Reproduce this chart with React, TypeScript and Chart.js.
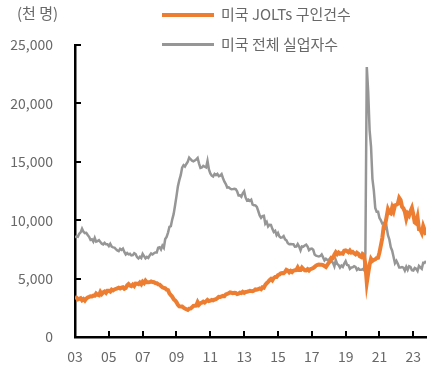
import React, { useEffect, useRef } from "react";
import { Chart, registerables } from "chart.js";

Chart.register(...registerables);

const START_YEAR = 2003;
const X_TICK_YEARS = [2003, 2005, 2007, 2009, 2011, 2013, 2015, 2017, 2019, 2021, 2023];
const Y_TICKS = [0, 5000, 10000, 15000, 20000, 25000];
const UNIT_LABEL = "(천 명)";
const SERIES_NAMES = ["미국 JOLTs 구인건수", "미국 전체 실업자수"];
const COLORS = ["#ED7D31", "#969696"];

// 미국 JOLTs 구인건수 (천 명), monthly from 2003-01
const jobOpenings = [
  3450, 3380, 3224, 3262, 3321, 3150, 3254, 3118, 3285, 3388, 3431, 3486,
  3476, 3540, 3530, 3719, 3617, 3578, 3858, 3680, 3820, 3893, 3774, 3960,
  3953, 3888, 4059, 3989, 4071, 4113, 4166, 4221, 4161, 4224, 4258, 4133,
  4200, 4429, 4536, 4405, 4351, 4485, 4367, 4572, 4565, 4525, 4664, 4519,
  4737, 4621, 4827, 4682, 4689, 4696, 4761, 4710, 4692, 4617, 4605, 4506,
  4483, 4370, 4254, 4214, 4170, 4050, 4013, 3725, 3582, 3451, 3228, 3134,
  2978, 2754, 2622, 2602, 2604, 2511, 2433, 2372, 2316, 2434, 2443, 2540,
  2658, 2684, 2690, 2985, 2766, 2895, 2936, 3023, 2955, 3049, 3179, 3084,
  3110, 3172, 3135, 3203, 3247, 3322, 3439, 3425, 3482, 3518, 3498, 3652,
  3693, 3746, 3819, 3786, 3755, 3780, 3771, 3682, 3716, 3794, 3760, 3864,
  3783, 3855, 3873, 3899, 3957, 3938, 3926, 3980, 4074, 4055, 4090, 4158,
  4090, 4260, 4226, 4458, 4605, 4723, 4869, 4969, 4856, 5049, 5137, 5143,
  5292, 5345, 5455, 5472, 5468, 5568, 5746, 5691, 5542, 5652, 5553, 5679,
  5711, 5719, 5951, 5734, 5739, 5947, 5816, 5718, 5708, 5803, 5694, 5808,
  5855, 5906, 6001, 6117, 6173, 6202, 6188, 6183, 6154, 6073, 5996, 6169,
  6362, 6478, 6787, 6763, 7047, 7254, 7099, 7229, 7125, 7171, 7138, 7391,
  7417, 7348, 7252, 7401, 7228, 7286, 7165, 7078, 7218, 7129, 6906, 6849,
  7108, 7024, 6191, 4657, 5464, 6198, 6697, 6518, 6599, 6647, 6762, 6788,
  7244, 7838, 8470, 9467, 9625, 10252, 10935, 10658, 10588, 11084, 10768, 11282,
  11318, 11407, 11909, 11727, 11154, 11012, 10714, 10136, 10565, 10403, 10772, 11055,
  10500, 9813, 9718, 10253, 9227, 9183, 8920, 9497, 9153, 8733,
];

// 미국 전체 실업자수 (천 명), monthly from 2003-01
const unemployed = [
  8520, 8618, 8588, 8842, 8957, 9266, 9011, 8896, 8921, 8732, 8576, 8317,
  8370, 8167, 8491, 8170, 8212, 8286, 8136, 7990, 7927, 8061, 7932, 7934,
  7784, 7980, 7737, 7672, 7651, 7524, 7406, 7345, 7553, 7453, 7566, 7279,
  7064, 7184, 7072, 7120, 6980, 7001, 7175, 7091, 6847, 6727, 6872, 6762,
  7116, 6927, 6731, 6850, 6766, 6979, 7149, 7067, 7170, 7237, 7240, 7645,
  7685, 7497, 7822, 7637, 8395, 8575, 8937, 9438, 9494, 10074, 10538, 11286,
  12058, 12898, 13426, 13853, 14499, 14707, 14601, 14814, 15009, 15352, 15219, 15098,
  15046, 15113, 15202, 15325, 14849, 14474, 14512, 14648, 14579, 14516, 15081, 14348,
  14013, 13820, 13737, 13957, 13855, 13962, 13763, 13818, 13948, 13594, 13302, 13093,
  12797, 12813, 12713, 12646, 12660, 12692, 12656, 12471, 12115, 12124, 12005, 12298,
  12471, 11950, 11689, 11760, 11654, 11751, 11335, 11279, 11270, 11136, 10787, 10404,
  10202, 10349, 10380, 9702, 9859, 9460, 9608, 9599, 9262, 8990, 9090, 8717,
  8903, 8610, 8504, 8526, 8640, 8361, 8274, 8026, 7936, 7955, 7935, 7935,
  7726, 7735, 7955, 7740, 7417, 7756, 7733, 7840, 7913, 7745, 7433, 7537,
  7565, 7464, 7058, 6957, 6923, 6900, 6934, 7066, 6819, 6556, 6701, 6602,
  6608, 6742, 6509, 6350, 6051, 6581, 6255, 6159, 5946, 6116, 6005, 6280,
  6488, 6168, 6143, 5834, 5949, 5974, 6054, 5999, 5747, 5864, 5759, 5750,
  5799, 5717, 7185, 23109, 20975, 17697, 16308, 13542, 12535, 11049, 10728, 10722,
  10193, 9980, 9705, 9762, 9292, 9450, 8718, 8352, 7696, 7388, 6856, 6318,
  6516, 6270, 5952, 5954, 5989, 5941, 5688, 6012, 5753, 6052, 5991, 5722,
  5694, 5906, 5839, 5657, 6080, 5957, 5836, 6355, 6347, 6506,
];

const FONT = '"Noto Sans CJK KR", "Noto Sans", sans-serif';
const TEXT_COLOR = "#686868";

const toPoints = (vals: number[]) =>
  vals.map((v, i) => ({ x: START_YEAR + i / 12, y: v }));

const innerTicks = {
  id: "innerTicks",
  afterDraw(chart: any) {
    const { ctx, chartArea, scales } = chart;
    ctx.save();
    ctx.strokeStyle = "#000";
    ctx.lineWidth = 2;
    ctx.beginPath();
    Y_TICKS.forEach((v) => {
      const y = Math.round(scales.y.getPixelForValue(v));
      ctx.moveTo(chartArea.left, y);
      ctx.lineTo(chartArea.left + 6, y);
    });
    X_TICK_YEARS.forEach((v) => {
      const x = Math.round(scales.x.getPixelForValue(v));
      ctx.moveTo(x, chartArea.bottom);
      ctx.lineTo(x, chartArea.bottom - 6);
    });
    ctx.stroke();
    ctx.restore();
  },
};

export default function App() {
  const ref = useRef<HTMLCanvasElement>(null);

  useEffect(() => {
    if (!ref.current) return;
    const lastX = START_YEAR + (jobOpenings.length - 1) / 12;
    const chart = new Chart(ref.current, {
      type: "line",
      data: {
        datasets: [
          {
            label: SERIES_NAMES[0],
            data: toPoints(jobOpenings),
            borderColor: COLORS[0],
            backgroundColor: COLORS[0],
            borderWidth: 4,
            pointRadius: 0,
            tension: 0,
          },
          {
            label: SERIES_NAMES[1],
            data: toPoints(unemployed),
            borderColor: COLORS[1],
            backgroundColor: COLORS[1],
            borderWidth: 2.5,
            pointRadius: 0,
            tension: 0,
          },
        ],
      },
      options: {
        responsive: false,
        animation: false,
        layout: { padding: { left: 0, right: 11, top: 45, bottom: 0 } },
        plugins: {
          legend: { display: false },
          tooltip: { enabled: false },
        },
        scales: {
          x: {
            type: "linear",
            min: START_YEAR,
            max: lastX,
            grid: { display: false, drawTicks: false },
            border: { display: true, color: "#000", width: 2.5 },
            afterBuildTicks: (scale: any) => {
              scale.ticks = X_TICK_YEARS.map((v) => ({ value: v }));
            },
            afterFit: (scale: any) => {
              scale.height = 34;
            },
            ticks: {
              autoSkip: false,
              maxRotation: 0,
              padding: 11,
              color: TEXT_COLOR,
              font: { family: FONT, size: 14 },
              callback: (v: any) => String(Number(v) % 100).padStart(2, "0"),
            },
          },
          y: {
            min: 0,
            max: 25000,
            grid: { display: false, drawTicks: false },
            border: { display: true, color: "#000", width: 2.5 },
            afterBuildTicks: (scale: any) => {
              scale.ticks = Y_TICKS.map((v) => ({ value: v }));
            },
            afterFit: (scale: any) => {
              scale.width = 75;
            },
            ticks: {
              padding: 22,
              color: TEXT_COLOR,
              font: { family: FONT, size: 14 },
              callback: (v: any) => Number(v).toLocaleString("en-US"),
            },
          },
        },
      },
      plugins: [innerTicks],
    });
    return () => chart.destroy();
  }, []);

  const textStyle: React.CSSProperties = {
    position: "absolute",
    fontFamily: FONT,
    fontSize: 15,
    color: TEXT_COLOR,
    lineHeight: "20px",
    whiteSpace: "nowrap",
  };

  return (
    <div style={{ position: "fixed", left: 0, top: 0, width: 437, height: 371, background: "#fff" }}>
      <canvas ref={ref} width={437} height={371} style={{ display: "block" }} />
      <div style={{ ...textStyle, left: 17, top: 3 }}>{UNIT_LABEL}</div>
      <div style={{ position: "absolute", left: 162, top: 13, width: 52, height: 4, background: COLORS[0] }} />
      <div style={{ ...textStyle, left: 221, top: 4 }}>{SERIES_NAMES[0]}</div>
      <div style={{ position: "absolute", left: 162, top: 42.5, width: 52, height: 3, background: COLORS[1] }} />
      <div style={{ ...textStyle, left: 221, top: 34 }}>{SERIES_NAMES[1]}</div>
    </div>
  );
}
